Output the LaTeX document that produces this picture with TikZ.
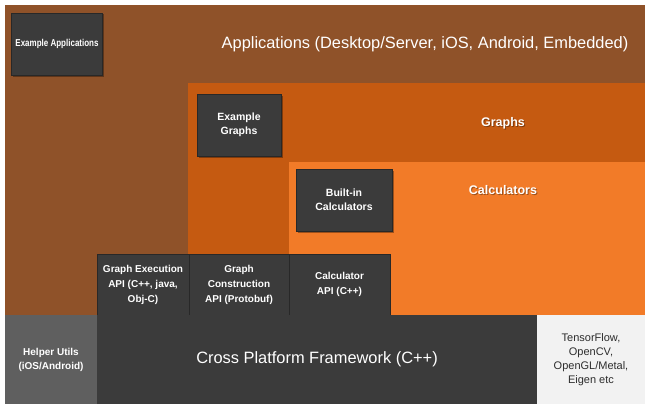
\documentclass[tikz,border=0pt]{standalone}
\usepackage{fontspec}
\setmainfont{Liberation Sans}
\newfontfamily\squeezedfont[FakeStretch=0.8]{Liberation Sans}
\usetikzlibrary{shadows}
\definecolor{appbrown}{RGB}{143,82,41}
\definecolor{graphorange}{RGB}{197,90,17}
\definecolor{calcorange}{RGB}{242,123,40}
\definecolor{darkbox}{RGB}{59,59,59}
\definecolor{darkedge}{RGB}{40,40,40}
\definecolor{helpergray}{RGB}{95,95,95}
\definecolor{lightpanel}{RGB}{242,242,242}
\definecolor{lighttext}{RGB}{45,45,45}
\begin{document}
\begin{tikzpicture}[x=1pt,y=-1pt,
  region/.style={inner sep=0pt, outer sep=0pt, anchor=north west},
  bigtitle/.style={text=white, font=\fontsize{16.4}{19}\selectfont},
  midtitle/.style={text=white, font=\bfseries\fontsize{12.5}{15}\selectfont},
  midshadow/.style={text=black, opacity=0.35, font=\bfseries\fontsize{12.5}{15}\selectfont},
  boxtext/.style={text=white, align=center, font=\bfseries\fontsize{10.5}{14}\selectfont},
  apitext/.style={text=white, align=center, font=\bfseries\fontsize{10}{15}\selectfont},
  blackbox/.style={fill=darkbox, draw=darkedge, line width=0.6pt, inner sep=0pt,
    drop shadow={shadow xshift=1.5pt, shadow yshift=-1.5pt, fill=black, opacity=0.35}},
  apibox/.style={region, fill=darkbox, draw=darkedge, line width=0.6pt}
]
\useasboundingbox (0,0) rectangle (645,404);
\fill[white] (0,0) rectangle (645,404);

% layers
\node[region, fill=appbrown, minimum width=640pt, minimum height=310pt] (apps) at (5,5) {};
\node[region, fill=graphorange, minimum width=457pt, minimum height=232pt] (graphs) at (188,83) {};
\node[region, fill=calcorange, minimum width=356pt, minimum height=153pt] (calcs) at (289,162) {};

% layer titles
\node[bigtitle] (appstitle) at (425,44) {Applications (Desktop/Server, iOS, Android, Embedded)};
\node[midshadow] (graphsshadow) at (504,124) {Graphs};
\node[midtitle] (graphstitle) at (503,123) {Graphs};
\node[midshadow] (calcsshadow) at (504,191) {Calculators};
\node[midtitle] (calcstitle) at (503,190) {Calculators};

% example boxes
\node[blackbox, minimum width=91pt, minimum height=62pt, text=white, font=\squeezedfont\bfseries\fontsize{10}{12}\selectfont] (exapps) at (57,44) {Example Applications};
\node[blackbox, minimum width=84pt, minimum height=62pt, boxtext] (exgraphs) at (239,125) {Example\\Graphs};
\node[blackbox, minimum width=96pt, minimum height=62pt, boxtext] (builtin) at (344,200) {Built-in\\Calculators};

% API row
\node[apibox, minimum width=92pt, minimum height=61pt, apitext] (execapi) at (97,254) {Graph Execution\\API (C++, java,\\Obj-C)};
\node[apibox, minimum width=100pt, minimum height=61pt, apitext] (constrapi) at (189,254) {Graph\\Construction\\API (Protobuf)};
\node[apibox, minimum width=101pt, minimum height=61pt, apitext] (calcapi) at (289,254) {Calculator\\API (C++)};

% bottom row
\node[region, fill=helpergray, minimum width=92pt, minimum height=89pt, apitext, font=\bfseries\fontsize{10}{14}\selectfont] (helper) at (5,315) {Helper Utils\\(iOS/Android)};
\node[region, fill=darkbox, minimum width=440pt, minimum height=89pt, bigtitle] (framework) at (97,315) {Cross Platform Framework (C++)};
\node[region, fill=lightpanel, minimum width=108pt, minimum height=89pt, align=center, text=lighttext, font=\fontsize{11}{14}\selectfont] (thirdparty) at (537,315) {TensorFlow,\\OpenCV,\\OpenGL/Metal,\\Eigen etc};
\end{tikzpicture}
\end{document}
